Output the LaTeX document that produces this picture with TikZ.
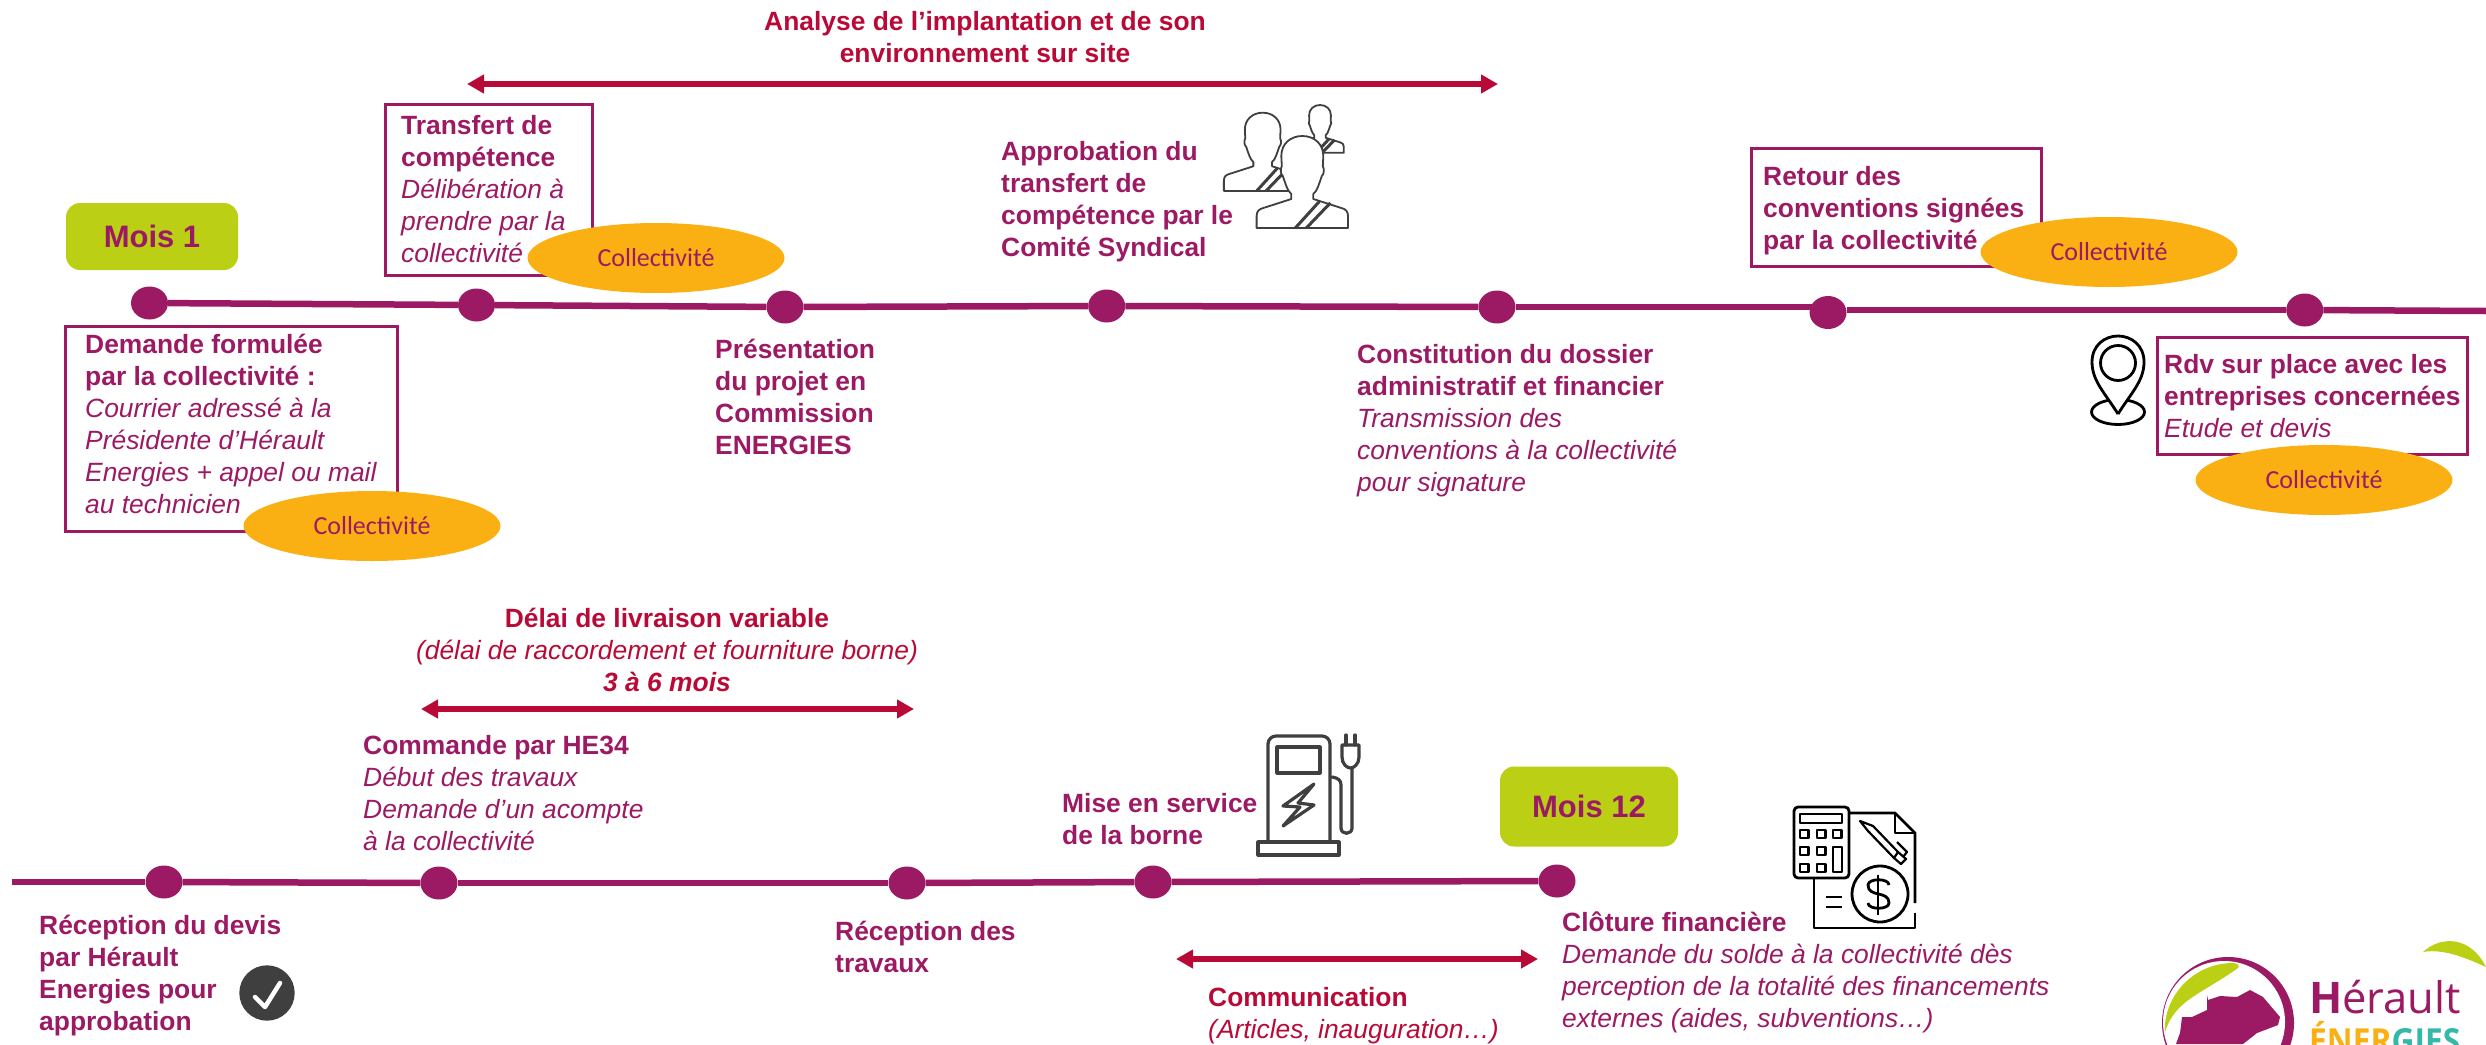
\documentclass[tikz,border=0pt]{standalone}
\usepackage{fontspec}
\usepackage{xcolor}
\setmainfont{Liberation Sans}
\newfontfamily\calibri{Carlito}
\newfontfamily\logofont{Open Sans}
\usetikzlibrary{arrows.meta}
\usetikzlibrary{shapes.geometric}
\definecolor{prune}{HTML}{9C1A64}
\definecolor{rouge}{HTML}{B90A37}
\definecolor{jaune}{HTML}{FAB013}
\definecolor{vert}{HTML}{BBD014}
\definecolor{gris}{HTML}{3F3F3F}
\definecolor{turquoise}{HTML}{35B8A8}
\tikzset{
	bloc/.style={anchor=base west, align=left, inner sep=0pt, text=prune, font=\fontsize{26.4}{32}\selectfont},
	blocrouge/.style={anchor=base, align=center, inner sep=0pt, text=rouge, font=\fontsize{26.4}{32}\selectfont},
	etape/.style={ellipse, fill=prune, minimum width=37pt, minimum height=33pt, inner sep=0pt},
	mois/.style={rounded corners=14pt, fill=vert, text=prune, inner sep=0pt, font=\fontsize{31}{36}\selectfont\bfseries},
	qui/.style={ellipse, fill=jaune, text=prune, minimum width=257pt, minimum height=70pt, inner sep=0pt, font=\calibri\fontsize{26}{30}\selectfont},
	cadre/.style={draw=prune, line width=3pt},
	frise/.style={draw=prune, line width=6.5pt},
	fleche/.style={{Triangle[length=17pt,width=18pt]}-{Triangle[length=17pt,width=18pt]}, draw=rouge, fill=rouge, line width=5.5pt},
	icone/.style={draw=gris, line width=3.2pt, line join=round, line cap=round},
	noir/.style={draw=black, line width=2.8pt, line join=round},
}
\newcommand{\personne}[3]{
	\begin{scope}[shift={(#1,#2)}, scale=#3]
		\draw[draw=gris, line width=1.8pt, fill=white, line join=round] (-45.7,92) -- (-45.7,80) .. controls (-45.7,75) and (-43,73) .. (-39,72) -- (-11,63) -- (-11,58) .. controls (-15,55) and (-17,47) .. (-19.5,40) .. controls (-22,38) and (-22,33) .. (-20.5,30) -- (-21,20) .. controls (-21,8) and (-12,0) .. (0,0) .. controls (12,0) and (21,8) .. (21,20) -- (20.5,30) .. controls (22,33) and (22,38) .. (19.5,40) .. controls (17,47) and (15,55) .. (11,58) -- (11,63) -- (39,72) .. controls (43,73) and (45.7,75) .. (45.7,80) -- (45.7,92) -- cycle;
		\draw[draw=gris, line width=3pt] (-7,92) -- (17,65.5);
		\draw[draw=gris, line width=3pt] (4,92) -- (28,67);
	\end{scope}
}
\begin{document}
\begin{tikzpicture}[x=1pt, y=-1pt]
	\useasboundingbox (0,0) rectangle (2486,1044);
	%
	%Frise haut
	\node[etape] (h1) at (149.5,303) {};
	\node[etape] (h2) at (476.5,305) {};
	\node[etape] (h3) at (785,307) {};
	\node[etape] (h4) at (1106.7,306) {};
	\node[etape] (h5) at (1497,307) {};
	\node[etape] (h6) at (1828,312.5) {};
	\node[etape] (h7) at (2304.7,310) {};
	\coordinate (hfin) at (2486,311);
	\draw[frise] (h1) -- (h2);
	\draw[frise] (h2) -- (h3);
	\draw[frise] (h3) -- (h4);
	\draw[frise] (h4) -- (h5);
	\draw[frise] (h5) -- (h6.north west |- h5);
	\draw[frise] (h6.east |- h7) -- (h7);
	\draw[frise] (h7) -- (hfin);
	%
	%Frise bas
	\coordinate (bdebut) at (12,882);
	\node[etape] (b1) at (164,882) {};
	\node[etape] (b2) at (439,883) {};
	\node[etape] (b3) at (907,883) {};
	\node[etape] (b4) at (1153,882) {};
	\node[etape] (b5) at (1557,881) {};
	\draw[frise] (bdebut) -- (b1);
	\draw[frise] (b1) -- (b2);
	\draw[frise] (b2) -- (b3);
	\draw[frise] (b3) -- (b4);
	\draw[frise] (b4) -- (b5);
	%
	%Mois
	\node[mois, minimum width=172pt, minimum height=67pt] (mois1) at (152,236.5) {Mois 1};
	\node[mois, minimum width=178pt, minimum height=80pt] (mois12) at (1589,806.5) {Mois 12};
	%
	%Analyse
	\node[blocrouge] (analyse) at (985,62) {\textbf{Analyse de l’implantation et de son}\\\textbf{environnement sur site}};
	\coordinate (analyseg) at (467,84);
	\coordinate (analysed) at (1498,84);
	\draw[fleche] (analyseg) -- (analysed);
	%
	%Transfert
	\draw[cadre] (385,104) rectangle (592,275);
	\node[bloc] (transfert) at (401,262) {\textbf{Transfert de}\\\textbf{compétence}\\\textit{Délibération à}\\\textit{prendre par la}\\\textit{collectivité}};
	\node[qui] (quitransfert) at (656,258) {Collectivité};
	%
	%Demande
	\draw[cadre] (65,326) rectangle (397,531);
	\node[bloc] (demande) at (85,513) {\textbf{Demande formulée}\\\textbf{par la collectivité :}\\\textit{Courrier adressé à la}\\\textit{Présidente d’Hérault}\\\textit{Energies + appel ou mail}\\\textit{au technicien}};
	\node[qui] (quidemande) at (372,526) {Collectivité};
	%
	%Presentation
	\node[bloc] (presentation) at (715,454) {\textbf{Présentation}\\\textbf{du projet en}\\\textbf{Commission}\\\textbf{ENERGIES}};
	%
	%Approbation
	\node[bloc] (approbation) at (1001,256) {\textbf{Approbation du}\\\textbf{transfert de}\\\textbf{compétence par le}\\\textbf{Comité Syndical}};
	\personne{1320}{105}{0.52}
	\personne{1262.7}{112.7}{0.85}
	\personne{1302.3}{136}{1}
	%
	%Constitution
	\node[bloc] (constitution) at (1357,491) {\textbf{Constitution du dossier}\\\textbf{administratif et financier}\\\textit{Transmission des}\\\textit{conventions à la collectivité}\\\textit{pour signature}};
	%
	%Retour
	\draw[cadre] (1751,148) rectangle (2041,266);
	\node[bloc] (retour) at (1763,249) {\textbf{Retour des}\\\textbf{conventions signées}\\\textbf{par la collectivité}};
	\node[qui] (quiretour) at (2109,252) {Collectivité};
	%
	%Rdv
	\draw[cadre] (2157,337) rectangle (2467,454);
	\node[bloc] (rdv) at (2164,437) {\textbf{Rdv sur place avec les}\\\textbf{entreprises concernées}\\\textit{Etude et devis}};
	\node[qui] (quirdv) at (2324,480) {Collectivité};
	%
	%Epingle
	\draw[noir] (2118,412) ellipse (26.5 and 12.5);
	\draw[noir, fill=white] (2118,414) .. controls (2105,393) and (2092,381) .. (2092,362) .. controls (2092,345) and (2105,336) .. (2118,336) .. controls (2131,336) and (2144,345) .. (2144,362) .. controls (2144,381) and (2131,393) .. (2118,414);
	\draw[noir] (2118,363) circle (17.5);
	%
	%Delai
	\node[blocrouge] (delai) at (667,691) {\textbf{Délai de livraison variable}\\\textit{(délai de raccordement et fourniture borne)}\\\textbf{\textit{3 à 6 mois}}};
	\coordinate (delaig) at (421,709);
	\coordinate (delaid) at (914,709);
	\draw[fleche] (delaig) -- (delaid);
	%
	%Commande
	\node[bloc] (commande) at (363,850) {\textbf{Commande par HE34}\\\textit{Début des travaux}\\\textit{Demande d’un acompte}\\\textit{à la collectivité}};
	%
	%Reception devis
	\node[bloc] (devis) at (39,1030) {\textbf{Réception du devis}\\\textbf{par Hérault}\\\textbf{Energies pour}\\\textbf{approbation}};
	\fill[gris] (267,993) circle (27.7);
	\draw[white, line width=4.5pt, line cap=round, line join=round] (255,997) -- (265,1007) -- (280,983);
	%
	%Reception travaux
	\node[bloc] (travaux) at (835,972) {\textbf{Réception des}\\\textbf{travaux}};
	%
	%Mise en service
	\node[bloc] (service) at (1062,844) {\textbf{Mise en service}\\\textbf{de la borne}};
	\draw[icone] (1268,842) -- (1268,744) [rounded corners=8pt] -- (1268,736) -- (1330,736) [sharp corners] -- (1330,842);
	\draw[icone] (1277,747) rectangle (1320,773);
	\draw[icone] (1258,842) rectangle (1339,855);
	\draw[icone] (1314,784) -- (1283,806) -- (1300,807) -- (1283,826) -- (1314,805) -- (1298,803) -- cycle;
	\draw[icone] (1332,777) .. controls (1338,778) and (1341,780) .. (1341,785) -- (1341,828) .. controls (1341,835) and (1352,835) .. (1352,828) -- (1352,768);
	\draw[icone] (1342,745) -- (1359,745) -- (1359,757) .. controls (1359,764) and (1354,768) .. (1350.5,768) .. controls (1347,768) and (1342,764) .. (1342,757) -- cycle;
	\draw[icone] (1346,735) -- (1346,745);
	\draw[icone] (1355,735) -- (1355,745);
	%
	%Communication
	\coordinate (comg) at (1176,959);
	\coordinate (comd) at (1538,959);
	\draw[fleche] (comg) -- (comd);
	\node[bloc, text=rouge] (communication) at (1208,1038.5) {\textbf{Communication}\\\textit{(Articles, inauguration…)}};
	%
	%Cloture
	\node[bloc] (cloture) at (1562,1027.5) {\textbf{Clôture financière}\\\textit{Demande du solde à la collectivité dès}\\\textit{perception de la totalité des financements}\\\textit{externes (aides, subventions…)}};
	\draw[noir, rounded corners=4pt] (1794,807) rectangle (1849,878);
	\draw[noir] (1800,814) rectangle (1842,823);
	\foreach \xa in {1800,1817,1833} {
		\draw[noir] (\xa,830) rectangle +(8.5,8);
	}
	\foreach \xa in {1800,1817} {
		\draw[noir] (\xa,847) rectangle +(8.5,8);
		\draw[noir] (\xa,864) rectangle +(8.5,8);
	}
	\draw[noir] (1833,847) rectangle (1842,872);
	\draw[noir] (1850,813) -- (1895,813) -- (1915,833) -- (1915,903);
	\draw[noir] (1915,913) -- (1915,928) -- (1814,928) -- (1814,878);
	\draw[noir] (1895,813) -- (1895,833) -- (1915,833);
	\draw[noir, line width=2.2pt] (1860,821) -- (1873,826) -- (1898,852) -- (1894,858) -- (1868,831) -- cycle;
	\draw[noir, line width=2.2pt] (1897,842) -- (1907,852) -- (1903,857);
	\draw[noir, line width=2.2pt] (1894,858) -- (1901,864) -- (1906,859) -- (1898,852);
	\draw[noir] (1880,894) circle (28);
	\draw[noir] (1889,885) .. controls (1889,878) and (1868,878) .. (1868,885) .. controls (1868,898) and (1889,890) .. (1889,903) .. controls (1889,910) and (1868,910) .. (1868,903);
	\draw[noir] (1878,875) -- (1878,915);
	\draw[noir] (1826,897) -- (1842,897);
	\draw[noir] (1826,907) -- (1842,907);
	%
	%Logo
	\begin{scope}
		\clip (0,0) rectangle (2486,1044);
		\fill[prune] (2228,1023) circle (66);
		\fill[white] (2224,1022) circle (61);
		\fill[vert] (2165,1032) .. controls (2163,997) and (2193,963) .. (2233,963) .. controls (2238,963) and (2240,966) .. (2238,968) .. controls (2200,995) and (2175,1000) .. (2165,1032) -- cycle;
		\fill[prune] (2207,995) -- (2208,1000) -- (2220,996) -- (2237,997) -- (2250,990) -- (2263,997) -- (2280,1017) -- (2278,1025) -- (2257,1033) -- (2243,1044) -- (2176,1044) -- (2180,1033) -- (2182,1017) -- (2192,1017) -- (2207,1010) -- cycle;
		\fill[vert] (2423,952) .. controls (2440,936) and (2470,935) .. (2486,967) .. controls (2470,960) and (2445,948) .. (2423,952) -- cycle;
		\node[anchor=base west, inner sep=0pt, text=prune, font=\logofont\fontsize{43.5}{46}\selectfont] (herault) at (2309,1013) {\textbf{H}érault};
		\node[anchor=base west, inner sep=0pt, xscale=0.92, text=jaune, font=\logofont\fontsize{34.5}{40}\selectfont\bfseries] (energies) at (2309,1053) {ÉNER\textcolor{turquoise}{GIES}};
	\end{scope}
\end{tikzpicture}
\end{document}
